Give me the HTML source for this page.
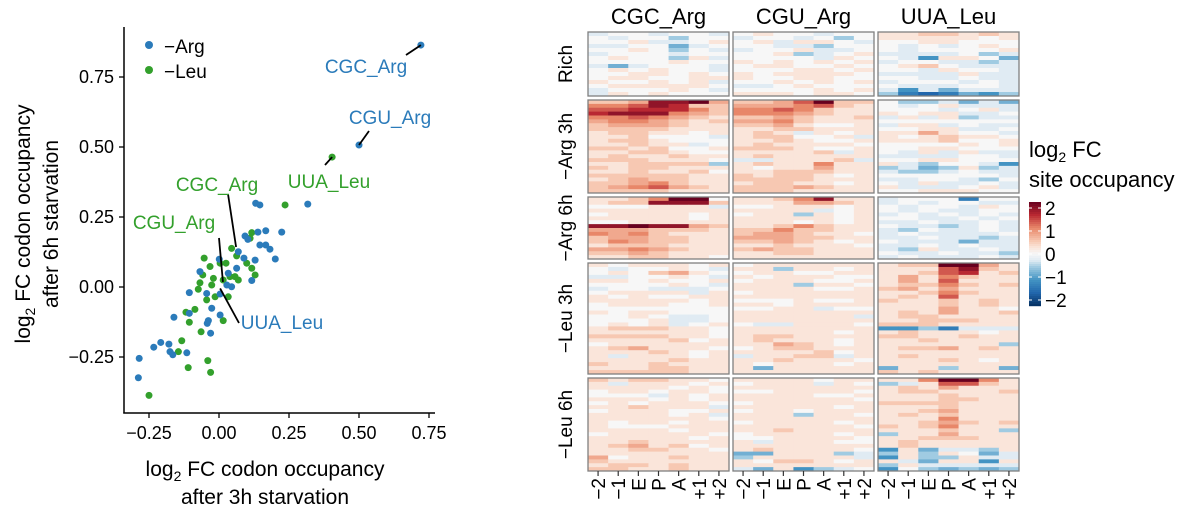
<!DOCTYPE html>
<html><head><meta charset="utf-8"><style>
body{margin:0;background:#fff;font-family:"Liberation Sans",Arial,sans-serif}
svg text{font-family:"Liberation Sans",Arial,sans-serif}
</style></head><body>
<svg id="chart" width="1200" height="525" viewBox="0 0 1200 525" xmlns="http://www.w3.org/2000/svg">
<g id="scatter"></g>
<g id="heat"></g>
</svg>
<script>
const NS="http://www.w3.org/2000/svg";
function el(tag,attrs,parent){const e=document.createElementNS(NS,tag);for(const k in attrs)e.setAttribute(k,attrs[k]);parent.appendChild(e);return e;}
// ---------- scatter data ----------
const argX=[.131,.146,.317,.224,.167,.139,.093,.103,.146,.167,.182,.201,.089,.129,.069,.063,.117,.033,.001,-.068,.028,.004,-.044,-.106,-.026,.004,-.038,-.042,-.030,-.106,-.161,-.233,-.208,-.179,-.175,-.165,-.115,-.285,-.288,.045,.721,.5];
const argY=[.299,.293,.296,.196,.201,.196,.182,.170,.150,.150,.135,.100,.103,.096,.126,.067,.023,.049,.099,.055,.007,-.025,-.023,-.020,-.076,-.100,-.120,-.130,-.165,-.094,-.108,-.215,-.198,-.204,-.231,-.242,-.235,-.255,-.324,.001,.864,.507];
const leuX=[.236,.117,.111,.045,.063,-.053,-.032,.004,.025,.099,.117,.129,.057,.069,-.058,-.020,-.026,-.068,-.074,-.044,-.014,.033,-.086,-.118,-.106,.015,-.064,-.133,-.145,-.110,-.040,-.030,-.250,.015,.039,.404];
const leuY=[.293,.194,.174,.138,.111,.103,.073,.085,.085,.085,.067,.043,.037,.025,.043,.031,.007,.015,-.008,-.046,-.035,-.035,-.080,-.090,-.126,-.120,-.160,-.192,-.231,-.288,-.263,-.305,-.387,.025,.037,.464];
const xTicks=[-0.25,0,0.25,0.5,0.75];
const xTickLabels=["\u22120.25","0.00","0.25","0.50","0.75"];
const yTicks=[-0.25,0,0.25,0.5,0.75];
const yTickLabels=["\u22120.25","0.00","0.25","0.50","0.75"];
const labels=[
 {name:"CGC_Arg",x:.721,y:.864,col:"#2b7bba",tx:366,ty:73,lx:406,ly:55},
 {name:"CGU_Arg",x:.5,y:.507,col:"#2b7bba",tx:390,ty:124,lx:369,ly:131},
 {name:"UUA_Leu",x:.404,y:.464,col:"#33a02c",tx:329,ty:188,lx:325,ly:165},
 {name:"CGC_Arg",x:.061,y:.143,col:"#33a02c",tx:217,ty:191,lx:228,ly:194},
 {name:"CGU_Arg",x:.014,y:.018,col:"#33a02c",tx:174,ty:229,lx:219,ly:238},
 {name:"UUA_Leu",x:.004,y:-.005,col:"#2b7bba",tx:282,ty:329,lx:239,ly:323}
];
const sx=v=>219+v*280, sy=v=>287-v*280;
const S=document.getElementById('scatter');
leuX.forEach((v,i)=>{const c=el('circle',{cx:sx(v),cy:sy(leuY[i]),r:3.5,fill:'#33a02c'},S);

});
argX.forEach((v,i)=>{const c=el('circle',{cx:sx(v),cy:sy(argY[i]),r:3.5,fill:'#2b7bba'},S);

});
labels.forEach(l=>{
 const ln=el('line',{x1:sx(l.x),y1:sy(l.y),x2:l.lx,y2:l.ly,stroke:'#000','stroke-width':1.8},S);
 
 
 const t=el('text',{x:l.tx,y:l.ty,'text-anchor':'middle','font-size':19,fill:l.col},S);t.textContent=l.name;
 
 
});
el('line',{x1:124,y1:27,x2:124,y2:413.5,stroke:'#000','stroke-width':1.5},S);
el('line',{x1:123.3,y1:413,x2:435,y2:413,stroke:'#000','stroke-width':1.5},S);
xTicks.forEach((v,i)=>{el('line',{x1:sx(v),y1:413,x2:sx(v),y2:418,stroke:'#000','stroke-width':1.3},S);
 const t=el('text',{x:sx(v),y:439,'text-anchor':'middle','font-size':18},S);t.textContent=xTickLabels[i];
 
 });
yTicks.forEach((v,i)=>{el('line',{x1:119,y1:sy(v),x2:124,y2:sy(v),stroke:'#000','stroke-width':1.3},S);
 const t=el('text',{x:114,y:sy(v)+6,'text-anchor':'end','font-size':18},S);t.textContent=yTickLabels[i];
 
 });
</script>
<script>
(function(){
const S=document.getElementById('scatter');
S.insertAdjacentHTML('beforeend',`
<g>
<circle cx="149" cy="45" r="4" fill="#2b7bba"/>
<text x="164" y="53" font-size="19">−Arg</text>
<circle cx="149" cy="70" r="4" fill="#33a02c"/>
<text x="164" y="78" font-size="19">−Leu</text></g>
<text x="265" y="476" text-anchor="middle" font-size="21">log<tspan font-size="14" dy="5">2</tspan><tspan dy="-5"> FC codon occupancy</tspan></text>
<text x="265" y="504" text-anchor="middle" font-size="21">after 3h starvation</text>
<g transform="translate(30,224) rotate(-90)"><text x="0" y="0" text-anchor="middle" font-size="21">log<tspan font-size="14" dy="5">2</tspan><tspan dy="-5"> FC codon occupancy</tspan></text>
<text x="0" y="28" text-anchor="middle" font-size="21">after 6h starvation</text></g>`);
})();
</script>
<script>
// ---------- heatmap data (a=-2 ... i=0 ... q=2, step 0.25) ----------
const codons=["CGC_Arg","CGU_Arg","UUA_Leu"];
const conditions=["Rich","\u2212Arg 3h","\u2212Arg 6h","\u2212Leu 3h","\u2212Leu 6h"];
const sites=["\u22122","\u22121","E","P","A","+1","+2"];
const cgcRows=[
"hiihiih ihiigii iijhhij hhiifhi iijigih hiiihii ijiigjh iiiijii hfhiiih ijijiih iijjiji ijjiijj jiijijh ijjjjji hiiijih hjijiii",
"kklppql mmnpokk nnooomk opppmlk mmnmlkj lmmlkjk klllkjj kkkkjjj jkkjjij jjkiiih jkkjiii jjkjjhi kkjkiij jjkkjii jkjjkjj kkkjjji jjkkkkg kjkkjjj jjkjjki kkkkkjj jklkkjj kklmkjj klmnlkj kkkkjjj",
"jjkmqqi jkkpppk iiijjjh jjjjjjj ijjjjij jjjjjij iijjjjj ppqpplk lllkkkj mlmkjjj kllkkjj kmlkkjj jkkkjjj llmlkjj kklkjjj jjkkjji",
"jijjjij ihiijih ijiklji hhiijih jjijiij iiiijih hiihhhi ijjjjhj jijiijj jjjjjij ijjjiij iiiiiii jijjiii iijihhi iiijhhi ijijhij jkkkjji jjjjjji kkkkjji jjjjkij ijjjjjj jkljjji jjjkjij jhjjjij jjjjkjj kjjkjjj jjjkkjj kkkkkjj",
"kjkkjji jhjjjij jjjjiji ijjijji iiihjij jjjijij ijijjji jjkjjjh ijjjiij jjjjijh jjjjjji jijjijj jiiijjj jjjjijj ijjjjji jjjjjij jjkjjjj jkljkij jjkkjji jjjjjjj lijjkjj kjjjjjj jkkjkjj kkjjkjj"];
const cguRows=[
"ijiihii hiihigi ijhjjih iihhgii hiijhhi iijghij iiiihji jijijij ijjiiji iiijjij jijjjji jiijjii iijijij hhijiii iiiijij jjjijji",
"kklnqkk lllmnkj mmnmkjj mmmlkjj kklkjjk llmkjjj kkljiij jjkkjjj jkjhjij jkkiijh jjkjiij jkjjjji kkkjiij jjjjkhj jkjjjjj hhjjjkh jkjjmjj jijjljj jjkkkjj kjkkjij kkkkjjj jkkjjij kkklkjj kkkjjjj",
"jjkmpjj jjjllkj iijjjij jjjjhij ijjgjij jjjjjij jjjijij jjkmkjj kkmkkjj kllkjji lllkkjj kklkjij jjkjjji klkkjjj jjkkjjj jjjjjjj",
"ijjjjjj jjgjjij ijjiijj jijjjii ijjjiij jjjgjji jjjjiij ijjjjjj jjjjjjj iiijiij jjijjjj iijjhii jjjjjjj jjjjjjh jjjjjjj ihhjjji jjjjjjj jjjjjij jkkjjjj jkjjjij jjlkjij ijkkjjj jjjjkij hjjkkhj jjkjjji jijjjij jfjjjjj jjjjjjj",
"jjjjijj ijjjhji jjjjjjj iijjjji jjjjiij jjjjjji ijjjjjj jjjjjij ijjijjj jjjgjji jjjjjjj ijjjjij jjjjjji jjkjjjj ijjjjij iijjjji jhjjjii jjjjjjj jkjjjji ffjjjgh gjjjjjh jikkjij jjjjjjj hfjeghi"];
const uuaRows=[
"jjkkjkj jjjjjij iijjiii ihihiji ihiiiij hhhhigh ihejjif hiihhgh ijkihhh iihjiih hhhhjhh iihhihh hiiihih ihhhiih hehfhhh gdcdfeg",
"igghfhf ihijhhh iiihijh jijjhhi hjhjghh iiiiiii hjjhihh iijjhhi jjljiih jijkjji jjjkiij iiiijij iijjiii ihjhjhh hhhhiih iijjiii jhgiihe ghfgjgh hgghihh iiiiiih hhiihgi ihjhhih jhhhijh iijjjii",
"hiiidii hihiihh ihiihji ihihhii hihihih iihhihi hhihhih ihhghih hgihhih hihhhhi hhihhgh ihhhfhh hhihihh hgjhhih ihhihhg hihhhih",
"jkkqqlj jjjnpkj jjknojk jljmkjj jljnjjj jkkmkjk kljljjj jjkmkjj jkjnjjj kjjkjkj jjjkjkj jjjljji jkjljjk jkkjjjj jjkkkjj kkkjjjj eegdhhh jkjjjij kkjjkjj jjkjjjj jjjjjjg jkkljkj jjjjjjj jkjjjjj jjjkjij jjjjjjj fjjgjjf kjkjjjj",
"jjmqqmj ghjnnkj jkjljjj jkkjjjk jjjkjjj jjjkkjj kkkkjjj jjjkjjj jjkljjj jkjkjjj jjjmjjj jjklkjk kjkmjjj jjjkjjg gjjljjj jjkkkjj jkjjjjj jkjjjjj ejfhhgj gjgjifh ejggjhh jhfjjej gjhhhhh eigfgfg"];
const colorTicks=[2,1,0,-1,-2];
// ---------- drawing ----------
const H=document.getElementById('heat');
const panelX=[588,733,878], panelW=141;
const rowY=[[32,96],[100,193],[197,259],[263,374],[378,471]];
const stops=[[-2,[5,48,97]],[-1.5,[33,102,172]],[-1,[67,147,195]],[-0.5,[160,203,226]],[-0.25,[224,235,243]],[0,[247,247,247]],[0.25,[250,229,218]],[0.5,[247,200,178]],[1,[232,135,105]],[1.5,[185,40,50]],[2,[103,0,31]]];
function col(v){v=Math.max(-2,Math.min(2,v));for(let i=0;i<stops.length-1;i++){const[a,ca]=stops[i],[b,cb]=stops[i+1];if(v<=b){const t=(v-a)/(b-a);return 'rgb('+ca.map((c,k)=>Math.round(c+(cb[k]-c)*t)).join(',')+')';}}return 'rgb(103,0,31)';}
const dec=ch=>(ch.charCodeAt(0)-105)*0.25;
[cgcRows,cguRows,uuaRows].forEach((blocks,p)=>{
 blocks.forEach((blk,r)=>{
  const rows=blk.split(' ');const y0=rowY[r][0],y1=rowY[r][1];const rh=(y1-y0)/rows.length;const cw=panelW/7;
  rows.forEach((s,i)=>{for(let j=0;j<7;j++){
   const c=el('rect',{x:panelX[p]+j*cw,y:y0+i*rh,width:cw+0.4,height:rh+0.4,fill:col(dec(s[j]))},H);
   
   }});
  const b=el('rect',{x:panelX[p],y:y0,width:panelW,height:y1-y0,fill:'none',stroke:'#7f7f7f','stroke-width':1.3},H);
  
  
 });
 const t=el('text',{x:panelX[p]+panelW/2,y:24,'text-anchor':'middle','font-size':22},H);t.textContent=codons[p];
 
 
 sites.forEach((s,j)=>{const x=panelX[p]+(j+0.5)*panelW/7;
  el('line',{x1:x,y1:471,x2:x,y2:476,stroke:'#333','stroke-width':1.2},H);
  const tt=el('text',{x:0,y:0,'text-anchor':'end','font-size':19,transform:`translate(${x+7},478) rotate(-90)`},H);tt.textContent=s;
  
  });
});
conditions.forEach((c,r)=>{const y=(rowY[r][0]+rowY[r][1])/2;
 const t=el('text',{x:0,y:0,'text-anchor':'middle','font-size':19,transform:`translate(572,${y}) rotate(-90)`},H);t.textContent=c;
 
 });
// colorbar
const cbTop=202,cbBot=306,cbX=1029,cbW=12;
const cy=v=>254-v*23;
for(let i=0;i<52;i++){const v=2-4*(i+0.5)/52;el('rect',{x:cbX,y:cbTop+i*2,width:cbW,height:2.2,fill:col(v)},H);}
colorTicks.forEach(v=>{el('line',{x1:cbX,y1:cy(v),x2:cbX+3,y2:cy(v),stroke:'#fff','stroke-width':1},H);el('line',{x1:cbX+cbW-3,y1:cy(v),x2:cbX+cbW,y2:cy(v),stroke:'#fff','stroke-width':1},H);
 const t=el('text',{x:1045,y:cy(v)+7,'font-size':19},H);t.textContent=v<0?'\u2212'+(-v):String(v);
 
 });
H.insertAdjacentHTML('beforeend',`<text x="1029" y="157" font-size="22">log<tspan font-size="14" dy="5">2</tspan><tspan dy="-5"> FC</tspan></text>
<text x="1029" y="187" font-size="22">site occupancy</text>`);
</script>
</body></html>
